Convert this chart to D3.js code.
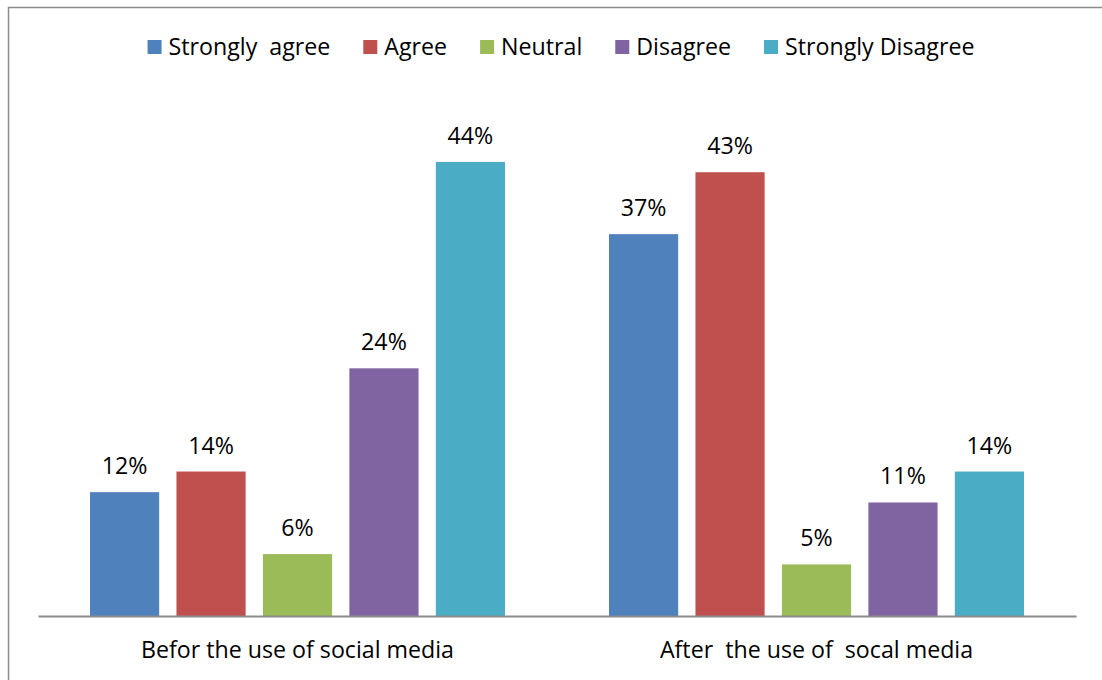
<!DOCTYPE html>
<html lang="en">
<head>
<meta charset="utf-8" />
<title>Before and after social media</title>
<style>
html, body {
	margin: 0;
	padding: 0;
	background: #fff;
}
svg {
	display: block;
	font-family: "Open Sans", "Noto Sans", sans-serif;
}
</style>
</head>
<body>
<svg width="1102" height="680"></svg>

<script src="https://cdn.jsdelivr.net/npm/d3@7/dist/d3.min.js"></script>
<script>
// data
var groups = ["Befor the use of social media", "After  the use of  socal media"];
var answers = ["Strongly  agree", "Agree", "Neutral", "Disagree", "Strongly Disagree"];
var before = [12, 14, 6, 24, 44];
var after = [37, 43, 5, 11, 14];
var colors = ["#4F81BD", "#C0504D", "#9BBB59", "#8064A2", "#4BACC6"];

var values = [before, after];
var fs = 23.2; // text size

var svg = d3.select("svg");

// outer chart frame (runs off the right and bottom edge)
svg.append("rect")
	.attr("x", 8.5).attr("y", 7.5)
	.attr("width", 1120).attr("height", 700)
	.attr("fill", "none")
	.attr("stroke", "#8c8c8c")
	.attr("stroke-width", 1.5);

var left = 38, right = 1076, base = 616;

var x0 = d3.scaleBand().domain(groups).range([left, right]);
var x1 = d3.scaleBand().domain(answers).range([52, x0.bandwidth() - 52]).paddingInner(0.2);
var y = d3.scaleLinear().domain([0, 50]).range([base, 100]);

var g = svg.selectAll("g.group")
	.data(groups)
	.enter()
	.append("g")
	.attr("class", "group")
	.attr("transform", function(d){ return "translate(" + x0(d) + ",0)"; });

g.selectAll("rect")
	.data(function(d, i){ return values[i]; })
	.enter()
	.append("rect")
	.attr("x", function(d, i){ return x1(answers[i]); })
	.attr("y", function(d){ return y(d); })
	.attr("width", x1.bandwidth())
	.attr("height", function(d){ return base - y(d); })
	.attr("fill", function(d, i){ return colors[i]; });

g.selectAll("text")
	.data(function(d, i){ return values[i]; })
	.enter()
	.append("text")
	.attr("x", function(d, i){ return x1(answers[i]) + x1.bandwidth() / 2; })
	.attr("y", function(d){ return y(d) - 18; })
	.attr("text-anchor", "middle")
	.attr("font-size", fs)
	.attr("fill", "#000")
	.text(function(d){ return d + "%"; });

// category axis
var axis = svg.append("g")
	.attr("transform", "translate(0," + base + ")")
	.call(d3.axisBottom(x0).tickSize(0).tickPadding(26));
axis.select(".domain").attr("stroke", "#8c8c8c").attr("stroke-width", 2);
axis.selectAll("text")
	.attr("font-size", fs)
	.attr("font-family", "\"Open Sans\", sans-serif")
	.attr("fill", "#000")
	.style("white-space", "pre");

// legend
var legend = svg.append("g").attr("transform", "translate(0,47)");
var items = legend.selectAll("g")
	.data(answers)
	.enter()
	.append("g");

items.append("rect")
	.attr("y", -7).attr("width", 14).attr("height", 14)
	.attr("fill", function(d, i){ return colors[i]; });

items.append("text")
	.attr("x", 21)
	.attr("dy", "0.35em")
	.attr("font-size", fs)
	.attr("fill", "#000")
	.style("white-space", "pre")
	.text(function(d){ return d; });

var pos = 0, offs = [];
items.each(function(){
	offs.push(pos);
	pos += this.getBBox().width + 33;
});
var start = 561 - (pos - 33) / 2;
items.attr("transform", function(d, i){ return "translate(" + (start + offs[i]) + ",0)"; });
</script>
</body>
</html>
